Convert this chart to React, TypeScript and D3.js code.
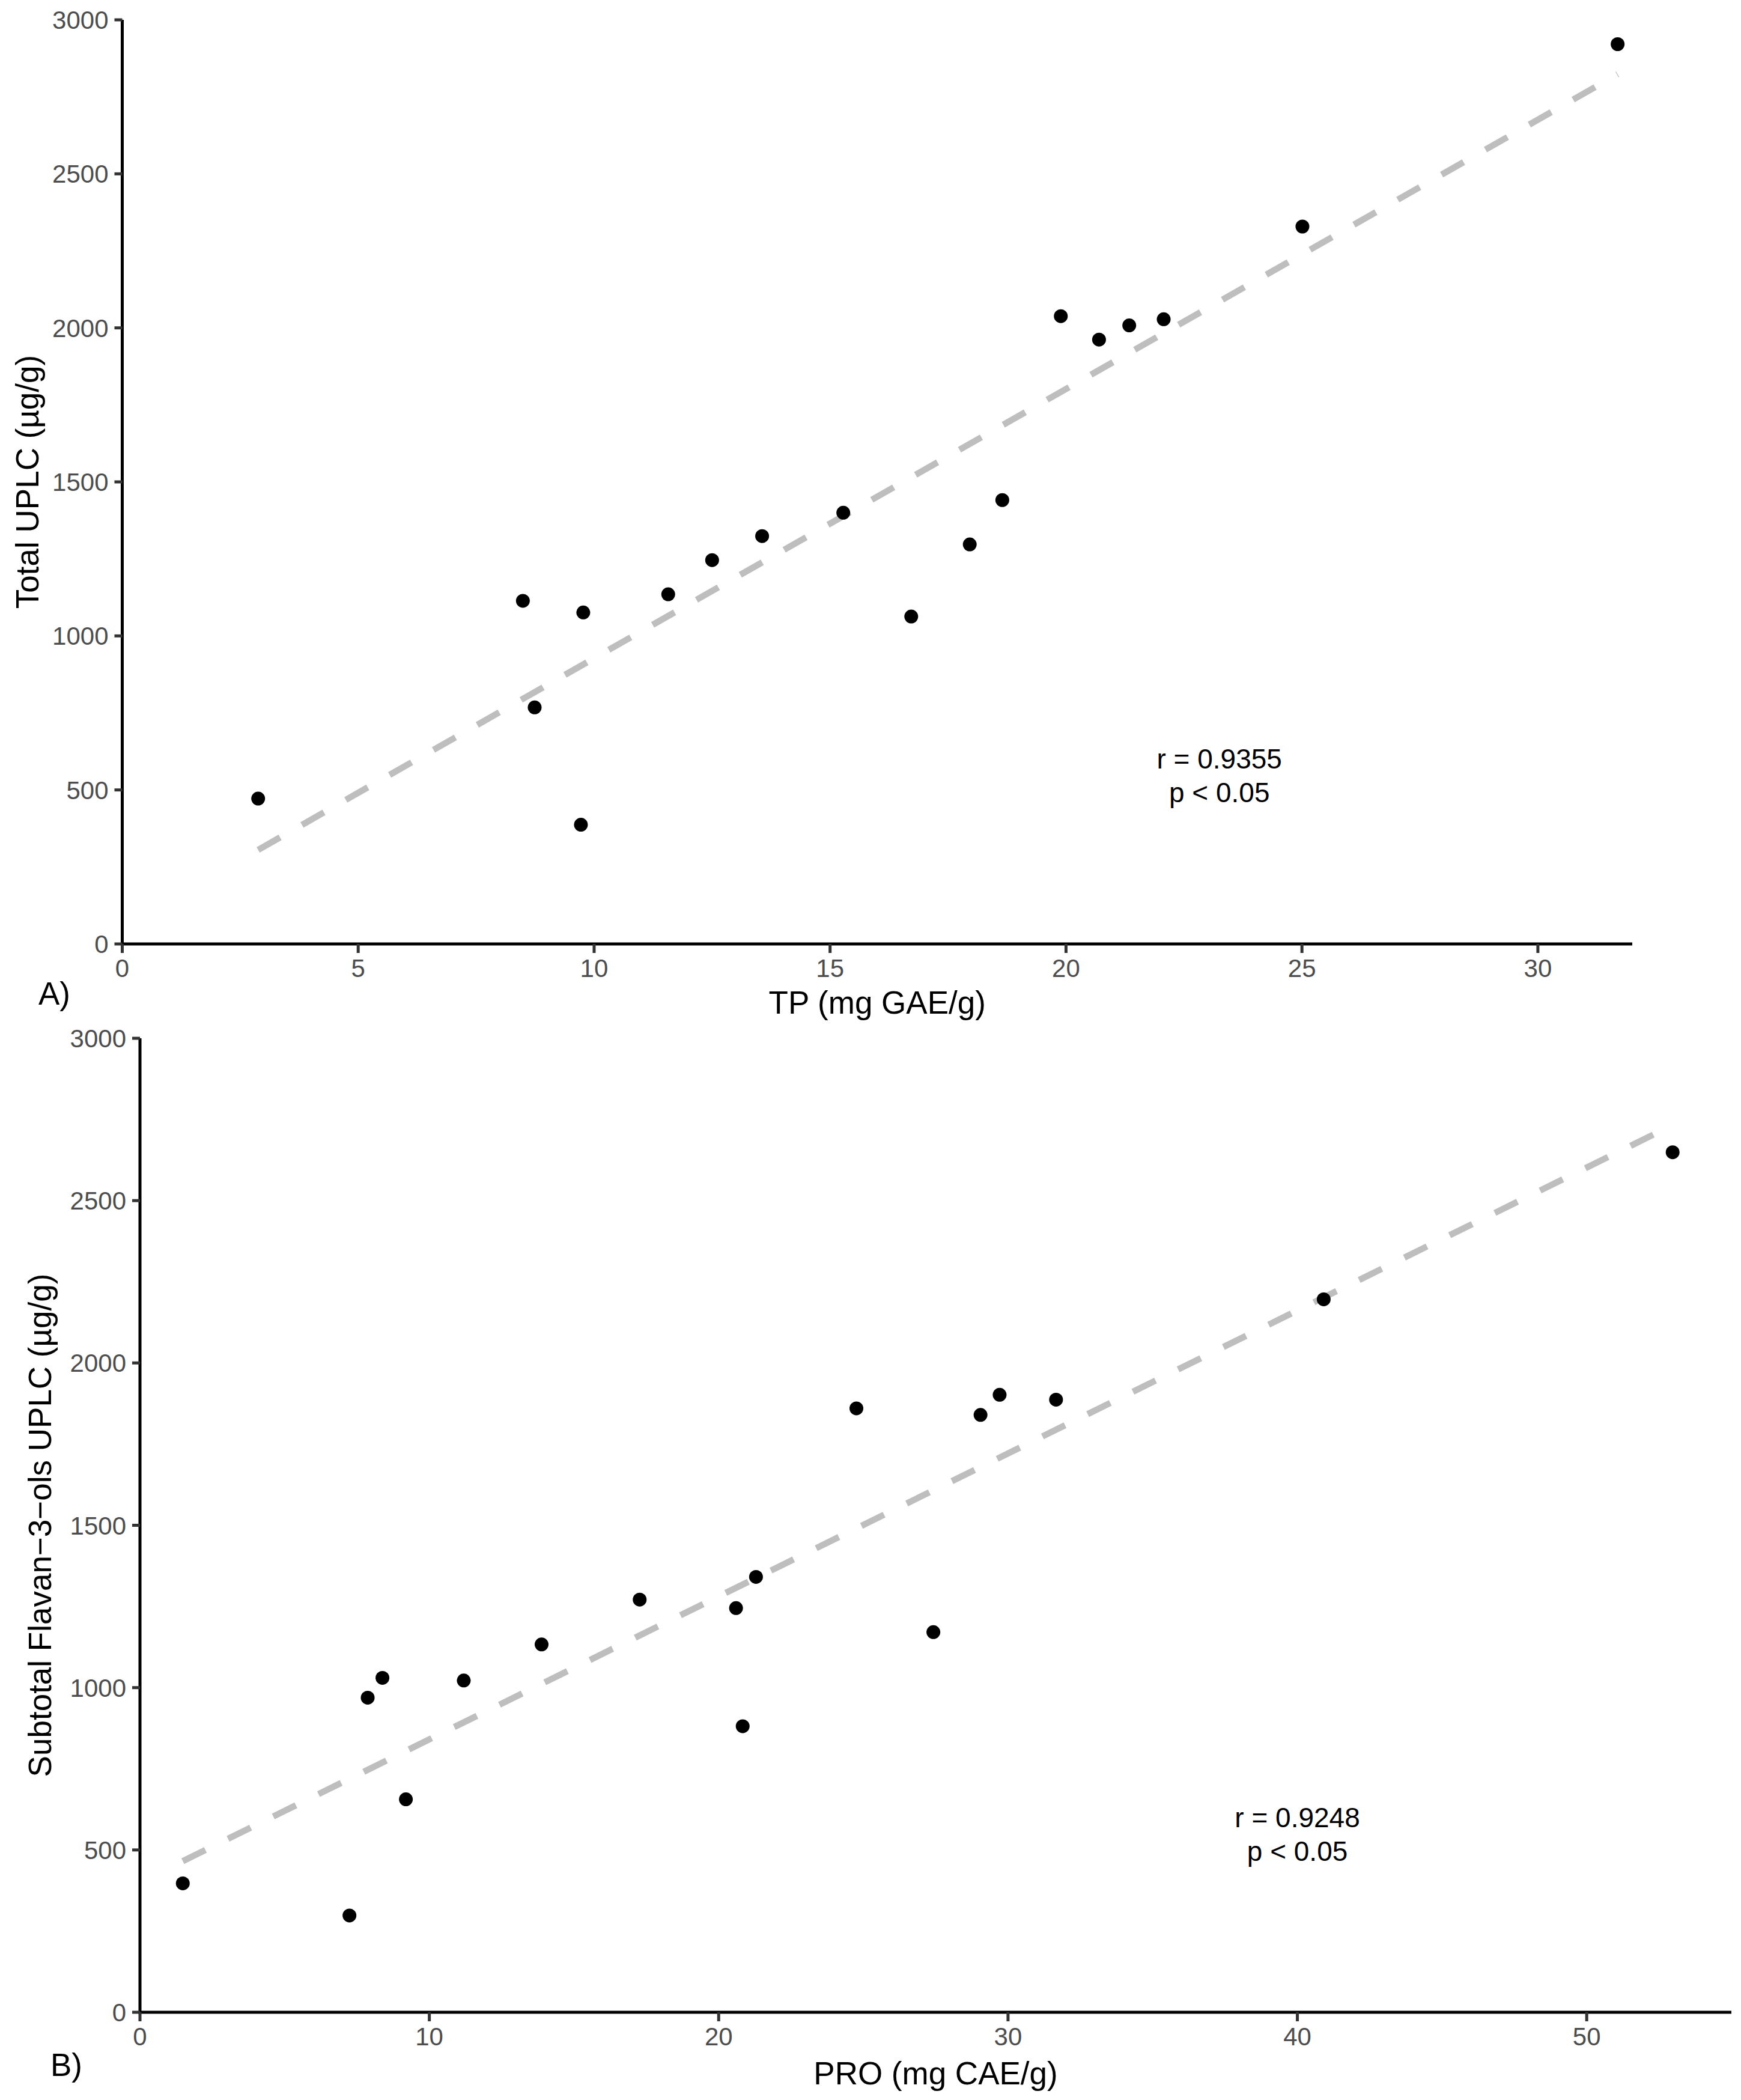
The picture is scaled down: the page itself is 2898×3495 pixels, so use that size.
import * as d3 from "d3";

// panel A: total phenolics vs total UPLC
const tpValues = [2.88, 8.49, 8.74, 9.77, 9.72, 11.57, 12.5, 13.56, 15.28, 16.72, 17.96, 18.65, 19.89, 20.7, 21.34, 22.07, 25.01, 31.69];
const totalUplc = [472, 1114, 768, 1076, 387, 1135, 1246, 1324, 1400, 1063, 1297, 1441, 2038, 1962, 2008, 2028, 2329, 2921];

// panel B: proanthocyanidins vs subtotal flavan-3-ols
const proValues = [1.48, 7.24, 7.87, 8.38, 9.19, 11.19, 13.88, 17.27, 20.6, 21.29, 20.83, 24.76, 27.42, 29.05, 29.71, 31.66, 40.91, 52.97];
const flavanols = [397, 298, 969, 1030, 656, 1022, 1133, 1271, 1245, 1341, 881, 1860, 1171, 1840, 1902, 1887, 2196, 2649];

const xTicksA = [0, 5, 10, 15, 20, 25, 30];
const xTicksB = [0, 10, 20, 30, 40, 50];
const yTicks = [0, 500, 1000, 1500, 2000, 2500, 3000];

const FONT = "'Liberation Sans', Arial, Helvetica, sans-serif";

function fit(xs: number[], ys: number[]) {
  const mx = d3.mean(xs)!;
  const my = d3.mean(ys)!;
  const sxy = d3.sum(xs, (x, i) => (x - mx) * (ys[i] - my));
  const sxx = d3.sum(xs, (x) => (x - mx) ** 2);
  const slope = sxy / sxx;
  return { slope, intercept: my - slope * mx };
}

interface PanelProps {
  xs: number[];
  ys: number[];
  xMax: number;
  xTicks: number[];
  left: number;
  right: number;
  top: number;
  bottom: number;
  xLabel: string;
  yLabel: string;
  yLabelX: number;
  tag: string;
  tagX: number;
  tagY: number;
  xTitleY: number;
  statLines: string[];
  statX: number;
  statY: number;
}

function Panel(p: PanelProps) {
  const x = d3.scaleLinear().domain([0, p.xMax]).range([p.left, p.right]);
  const y = d3.scaleLinear().domain([0, 3000]).range([p.bottom, p.top]);
  const { slope, intercept } = fit(p.xs, p.ys);
  const [x0, x1] = d3.extent(p.xs) as [number, number];
  const line = d3
    .line<number>()
    .x((d) => x(d))
    .y((d) => y(intercept + slope * d));

  return (
    <g>
      <path
        d={line([x0, x1])!}
        fill="none"
        stroke="#BEBEBE"
        strokeWidth={10.5}
        strokeDasharray="42 42"
      />
      {p.xs.map((v, i) => (
        <circle key={i} cx={x(v)} cy={y(p.ys[i])} r={11.5} fill="#000" />
      ))}

      {/* axes */}
      <line x1={p.left} x2={p.left} y1={y(3000)} y2={y(0) + 2.5} stroke="#000" strokeWidth={5} />
      <line x1={p.left - 2.5} x2={p.right} y1={y(0)} y2={y(0)} stroke="#000" strokeWidth={5} />
      {yTicks.map((t) => (
        <g key={"y" + t}>
          <line x1={p.left - 13} x2={p.left} y1={y(t)} y2={y(t)} stroke="#333" strokeWidth={5} />
          <text
            x={p.left - 23}
            y={y(t)}
            dy="0.36em"
            textAnchor="end"
            fontSize={42}
            fill="#4D4D4D"
            fontFamily={FONT}
          >
            {t}
          </text>
        </g>
      ))}
      {p.xTicks.map((t) => (
        <g key={"x" + t}>
          <line x1={x(t)} x2={x(t)} y1={y(0)} y2={y(0) + 15} stroke="#333" strokeWidth={5} />
          <text
            x={x(t)}
            y={y(0) + 55}
            textAnchor="middle"
            fontSize={42}
            fill="#4D4D4D"
            fontFamily={FONT}
          >
            {t}
          </text>
        </g>
      ))}

      <text
        x={(p.left + p.right) / 2}
        y={p.xTitleY}
        textAnchor="middle"
        fontSize={53}
        fontFamily={FONT}
        fill="#000"
      >
        {p.xLabel}
      </text>
      <text
        transform={`translate(${p.yLabelX},${(p.top + p.bottom) / 2}) rotate(-90)`}
        textAnchor="middle"
        fontSize={53}
        fontFamily={FONT}
        fill="#000"
      >
        {p.yLabel}
      </text>
      <text x={p.tagX} y={p.tagY} fontSize={53} fontFamily={FONT} fill="#000">
        {p.tag}
      </text>

      <text textAnchor="middle" fontSize={46} fontFamily={FONT} fill="#000">
        {p.statLines.map((s, i) => (
          <tspan key={i} x={x(p.statX)} y={y(p.statY) + i * 56}>
            {s}
          </tspan>
        ))}
      </text>
    </g>
  );
}

export default function App() {
  return (
    <svg
      width={2898}
      height={3495}
      viewBox="0 0 2898 3495"
      style={{ position: "absolute", left: 0, top: 0, background: "#fff" }}
    >
      <rect width={2898} height={3495} fill="#fff" />
      <Panel
        xs={tpValues}
        ys={totalUplc}
        xMax={32}
        xTicks={xTicksA}
        left={203.5}
        right={2717}
        top={33}
        bottom={1571}
        xLabel="TP (mg GAE/g)"
        yLabel="Total UPLC (µg/g)"
        yLabelX={64}
        tag="A)"
        tagX={64}
        tagY={1672}
        xTitleY={1687}
        statLines={["r = 0.9355", "p < 0.05"]}
        statX={23.25}
        statY={570}
      />
      <Panel
        xs={proValues}
        ys={flavanols}
        xMax={55}
        xTicks={xTicksB}
        left={233}
        right={2882}
        top={1728}
        bottom={3349}
        xLabel="PRO (mg CAE/g)"
        yLabel={"Subtotal Flavan\u22123\u2212ols UPLC (µg/g)"}
        yLabelX={85}
        tag="B)"
        tagX={84}
        tagY={3455}
        xTitleY={3469}
        statLines={["r = 0.9248", "p < 0.05"]}
        statX={40}
        statY={570}
      />
    </svg>
  );
}
